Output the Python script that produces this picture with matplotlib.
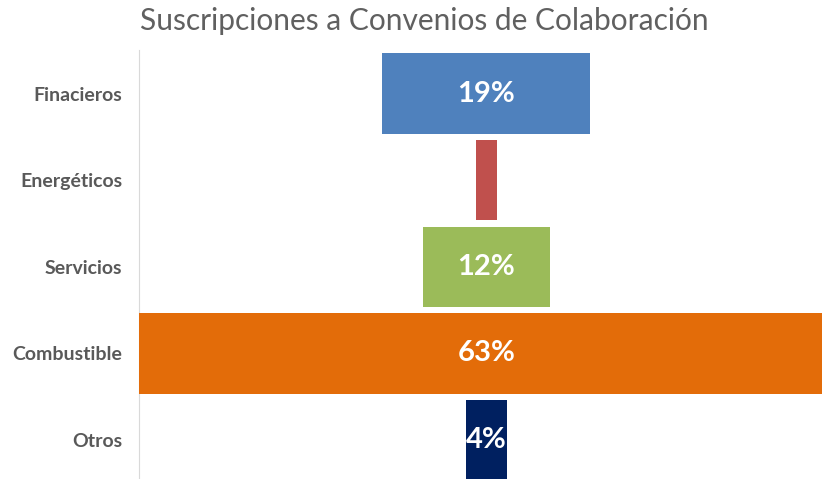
import numpy as np
import matplotlib
matplotlib.use("Agg")
import matplotlib.pyplot as plt

categories = ["Finacieros", "Energéticos", "Servicios", "Combustible", "Otros"]
shares = [18.9, 1.9, 11.5, 63.0, 3.7]
colors = ["#4F81BD", "#C0504D", "#9BBB59", "#E36C09", "#002060"]

plt.rcParams['font.family'] = ['Lato', 'DejaVu Sans']

fig = plt.figure(figsize=(8.22, 4.79), dpi=100)
ax = fig.add_axes([138.7 / 822, -4.4 / 479, 695 / 822, 433.2 / 479])

ypos = np.arange(len(categories))
shares = np.array(shares)
# funnel: each bar centred on zero
ax.barh(ypos, shares, left=-shares / 2, height=0.93, color=colors)

for y, v in zip(ypos, shares):
  if v >= 3:
    ax.text(0, y, "%.0f%%" % v, ha="center", va="center", color="white",
            fontsize=21, fontweight="bold")

ax.set_xlim(-shares.max() / 2, shares.max() / 2)
ax.set_ylim(len(categories) - 0.5, -0.5)
ax.set_yticks(ypos)
ax.set_yticklabels(categories, fontsize=14, fontweight="bold", color="#595959")
ax.tick_params(axis="y", length=0, pad=12)
ax.set_xticks([])
for s in ["top", "right", "bottom"]:
  ax.spines[s].set_visible(False)
ax.spines["left"].set_color("#D9D9D9")
ax.spines["left"].set_zorder(0)

fig.text(424 / 822, 1 - 21 / 479, "Suscripciones a Convenios de Colaboración",
         ha="center", va="center", fontsize=21.5, fontweight="normal", color="#606060")

plt.savefig("out.png", dpi=100)
